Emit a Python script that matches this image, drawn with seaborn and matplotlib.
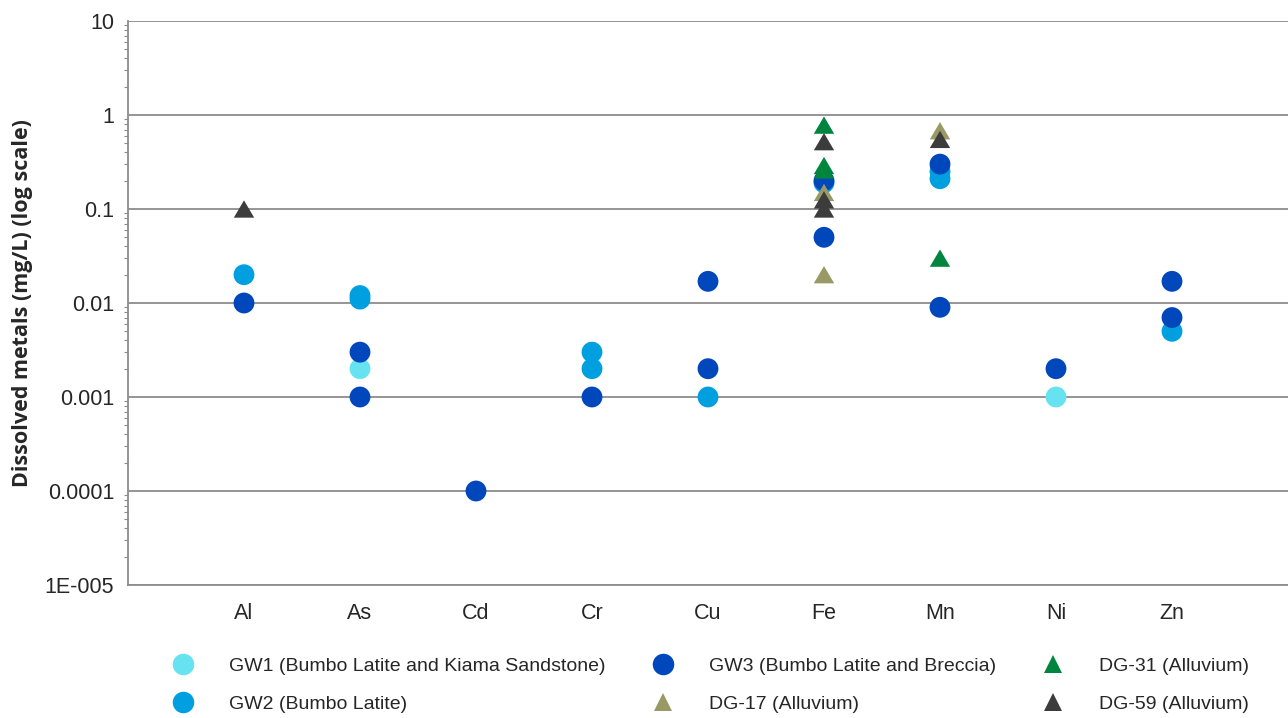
import pandas as pd
import seaborn as sns
import matplotlib.pyplot as plt
from matplotlib.lines import Line2D
from matplotlib.ticker import LogLocator, NullFormatter

# categories on the x axis
metals = ["Al", "As", "Cd", "Cr", "Cu", "Fe", "Mn", "Ni", "Zn"]

# groundwater bores (circles)
gw1_metal = ["As", "Ni"]
gw1_val = [0.002, 0.001]
gw2_metal = ["Al", "As", "As", "Cr", "Cr", "Cu", "Fe", "Mn", "Mn", "Zn"]
gw2_val = [0.02, 0.012, 0.011, 0.003, 0.002, 0.001, 0.19, 0.25, 0.21, 0.005]
gw3_metal = ["Al", "As", "As", "Cd", "Cr", "Cu", "Cu", "Fe", "Fe", "Mn", "Mn", "Ni", "Zn", "Zn"]
gw3_val = [0.01, 0.003, 0.001, 0.0001, 0.001, 0.017, 0.002, 0.2, 0.05, 0.3, 0.009, 0.002, 0.017, 0.007]

# alluvium bores (triangles)
dg17_metal = ["Fe", "Fe", "Mn"]
dg17_val = [0.15, 0.02, 0.68]
dg31_metal = ["Fe", "Fe", "Fe", "Mn"]
dg31_val = [0.78, 0.29, 0.26, 0.03]
dg59_metal = ["Al", "Fe", "Fe", "Fe", "Mn"]
dg59_val = [0.1, 0.52, 0.125, 0.1, 0.55]

labels = {
    "GW1": "GW1 (Bumbo Latite and Kiama Sandstone)",
    "GW2": "GW2 (Bumbo Latite)",
    "GW3": "GW3 (Bumbo Latite and Breccia)",
    "DG-17": "DG-17 (Alluvium)",
    "DG-31": "DG-31 (Alluvium)",
    "DG-59": "DG-59 (Alluvium)",
}
colors = {
    "GW1": "#66E2F0",
    "GW2": "#00A0E0",
    "GW3": "#0047BB",
    "DG-17": "#999966",
    "DG-31": "#00853E",
    "DG-59": "#3C3C3C",
}

y_ticks = [1e-5, 1e-4, 1e-3, 1e-2, 1e-1, 1, 10]
y_ticklabels = ["1E-005", "0.0001", "0.001", "0.01", "0.1", "1", "10"]


def make_df(parts):
    frames = []
    for name, m, v in parts:
        frames.append(pd.DataFrame({"metal": m, "value": v, "bore": name}))
    df = pd.concat(frames, ignore_index=True)
    df["metal"] = pd.Categorical(df["metal"], categories=metals, ordered=True)
    return df


gw = make_df([("GW1", gw1_metal, gw1_val), ("GW2", gw2_metal, gw2_val), ("GW3", gw3_metal, gw3_val)])
dg = make_df([("DG-17", dg17_metal, dg17_val), ("DG-31", dg31_metal, dg31_val), ("DG-59", dg59_metal, dg59_val)])

sns.set_style("white")
plt.rcParams["font.family"] = ["Liberation Sans", "DejaVu Sans"]

tri = [(-1, -0.85), (1, -0.85), (0, 0.85)]

fig = plt.figure(figsize=(12.88, 7.18), dpi=100)
ax = fig.add_axes([128 / 1288, 133 / 718, 1160 / 1288, 564 / 718])

sns.scatterplot(data=gw, x="metal", y="value", hue="bore", palette=colors,
                marker="o", s=225, linewidth=0, legend=False, ax=ax, zorder=3)
sns.scatterplot(data=dg, x="metal", y="value", hue="bore", palette=colors,
                marker=tri, s=215, linewidth=0, legend=False, ax=ax, zorder=4)

ax.set_yscale("log")
ax.set_ylim(1e-5, 10)
ax.set_xlim(-1, len(metals))
ax.set_xticks(range(len(metals)), metals)
ax.set_yticks(y_ticks, y_ticklabels)
ax.yaxis.set_minor_locator(LogLocator(base=10, subs=range(2, 10), numticks=20))
ax.yaxis.set_minor_formatter(NullFormatter())

ax.grid(axis="y", which="major", color="#8C8C8C", linewidth=1.3)
ax.set_axisbelow(True)
for side in ["top", "right"]:
    ax.spines[side].set_visible(False)
for side in ["left", "bottom"]:
    ax.spines[side].set_color("#8C8C8C")
    ax.spines[side].set_linewidth(1.3)

ax.tick_params(axis="y", which="major", length=6, color="#8C8C8C", width=1, labelsize=15.5, pad=4)
ax.tick_params(axis="y", which="minor", left=True, length=3, color="#8C8C8C", width=0.8)
ax.tick_params(axis="x", length=0, labelsize=15.5, pad=13)

ax.set_xlabel("")
ax.set_ylabel("Dissolved metals (mg/L) (log scale)", fontsize=15.5, fontweight="bold",
              family=["Open Sans", "DejaVu Sans"])
ax.yaxis.set_label_coords(-0.082, 0.5)


def handle(name):
    if name.startswith("GW"):
        return Line2D([], [], linestyle="none", marker="o", markersize=15.5,
                      markerfacecolor=colors[name], markeredgewidth=0)
    return Line2D([], [], linestyle="none", marker="^", markersize=13,
                  markerfacecolor=colors[name], markeredgewidth=0)


columns = [(["GW1", "GW2"], 173), (["GW3", "DG-17"], 653), (["DG-31", "DG-59"], 1043)]
for names, x0 in columns:
    fig.legend([handle(n) for n in names], [labels[n] for n in names],
               loc="upper left", bbox_to_anchor=(x0 / 1288, 1 - 657 / 718),
               frameon=False, fontsize=14, handlelength=1.0, handletextpad=1.87,
               labelspacing=1.07, borderpad=0, borderaxespad=0)

fig.savefig("out.png", dpi=100)
